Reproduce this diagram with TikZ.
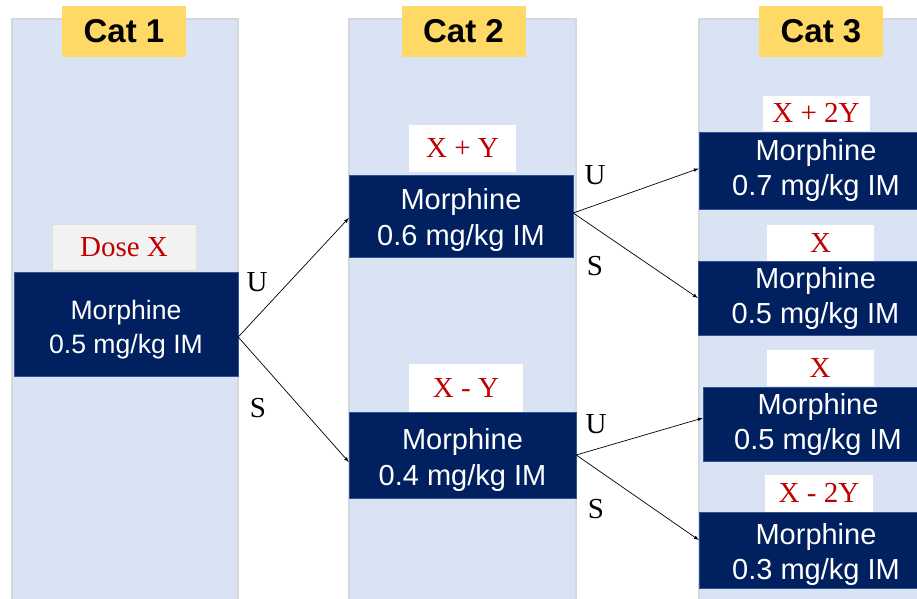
\documentclass[tikz,border=0pt]{standalone}
\usepackage{fontspec}
\setmainfont{Liberation Serif}
\setsansfont{Liberation Sans}
\usetikzlibrary{shapes,arrows,positioning}

\definecolor{colbg}{HTML}{DAE3F3}
\definecolor{colline}{HTML}{D4D7DC}
\definecolor{catyellow}{HTML}{FFD966}
\definecolor{navy}{HTML}{002060}
\definecolor{navyline}{HTML}{2F5597}
\definecolor{dosered}{HTML}{C00000}

\newcommand{\topgap}{\rule{0pt}{30pt}}

\begin{document}
\begin{tikzpicture}[
    x=1pt, y=-1pt,
    node distance=0pt,
    column/.style={fill=colbg, draw=colline, line width=1.2pt},
    cat/.style={rectangle, fill=catyellow, minimum width=124pt, minimum height=51pt, inner sep=0pt, font=\sffamily\bfseries\fontsize{33}{36}\selectfont},
    block/.style={rectangle, draw=navyline, fill=navy, text=white, align=center, inner sep=0pt, font=\sffamily\fontsize{29}{35}\selectfont},
    dose/.style={rectangle, fill=white, text=dosered, minimum width=107pt, inner sep=0pt, font=\fontsize{29}{32}\selectfont},
    branch/.style={inner sep=0pt, font=\fontsize{29}{32}\selectfont},
    arrow/.style={-latex, line width=0.7pt}
]
    \useasboundingbox (0,0) rectangle (917,598);
    \clip (0,0) rectangle (917,598);

    % columns
    \draw[column] (12,19) rectangle (238,610);
    \draw[column] (349,19) rectangle (576,610);
    \draw[column] (699,19) rectangle (930,610);

    \node[cat] (cat1) at (124,31.5) {Cat 1};
    \node[cat] (cat2) at (463.5,31.5) {Cat 2};
    \node[cat] (cat3) at (821,31.5) {Cat 3};

    % morphine doses
    \node[block, minimum width=224pt, minimum height=104pt, font=\sffamily\fontsize{26.6}{34}\selectfont] (m1) at (126,324) {\topgap Morphine\\0.5 mg/kg IM};
    \node[block, minimum width=224pt, minimum height=82pt, font=\sffamily\fontsize{29}{36}\selectfont] (m2u) at (461,216) {\topgap Morphine\\0.6 mg/kg IM};
    \node[block, minimum width=227pt, minimum height=86pt, font=\sffamily\fontsize{29}{36}\selectfont] (m2s) at (462.5,455) {\topgap Morphine\\0.4 mg/kg IM};
    \node[block, minimum width=234pt, minimum height=77pt] (m3uu) at (816,170.5) {Morphine\\0.7 mg/kg IM};
    \node[block, minimum width=235pt, minimum height=74pt] (m3us) at (815.5,298) {Morphine\\0.5 mg/kg IM};
    \node[block, minimum width=230pt, minimum height=74pt] (m3su) at (818,424) {Morphine\\0.5 mg/kg IM};
    \node[block, minimum width=234pt, minimum height=76pt] (m3ss) at (816,550) {\topgap Morphine\\0.3 mg/kg IM};

    \node[dose, fill=black!5, draw=black!12, minimum width=144pt, minimum height=46pt, above=1pt of m1, xshift=-2pt] (d1) {Dose X\hspace{14pt}};
    \node[dose, minimum height=47pt, above=3pt of m2u, xshift=1.5pt] (d2u) {X + Y};
    \node[dose, minimum width=114pt, minimum height=48pt, above=0pt of m2s, xshift=3.5pt] (d2s) {X - Y};
    \node[dose, minimum height=35pt, above=1pt of m3uu] (d3uu) {X + 2Y};
    \node[dose, minimum height=36pt, above=0pt of m3us, xshift=5pt] (d3us) {X};
    \node[dose, minimum height=36pt, above=1pt of m3su, xshift=2pt] (d3su) {X};
    \node[dose, minimum width=108pt, minimum height=37pt, above=0pt of m3ss, xshift=3pt] (d3ss) {X - 2Y};

    % branches
    \draw[arrow] ([yshift=-13pt]m1.east) -- ([yshift=-2pt]m2u.west);
    \draw[arrow] ([yshift=-13pt]m1.east) -- ([yshift=-7pt]m2s.west);
    \draw[arrow] ([yshift=3pt]m2u.east) -- ([yshift=2pt]m3uu.west);
    \draw[arrow] ([yshift=3pt]m2u.east) -- (m3us.west);
    \draw[arrow] (m2s.east) -- ([yshift=6pt]m3su.west);
    \draw[arrow] (m2s.east) -- ([yshift=10pt]m3ss.west);

    \node[branch] (u1) at (257,282) {U};
    \node[branch] (s1) at (258,408) {S};
    \node[branch] (u2) at (595,175) {U};
    \node[branch] (s2) at (595,266) {S};
    \node[branch] (u3) at (596,424) {U};
    \node[branch] (s3) at (596,509) {S};
\end{tikzpicture}
\end{document}
